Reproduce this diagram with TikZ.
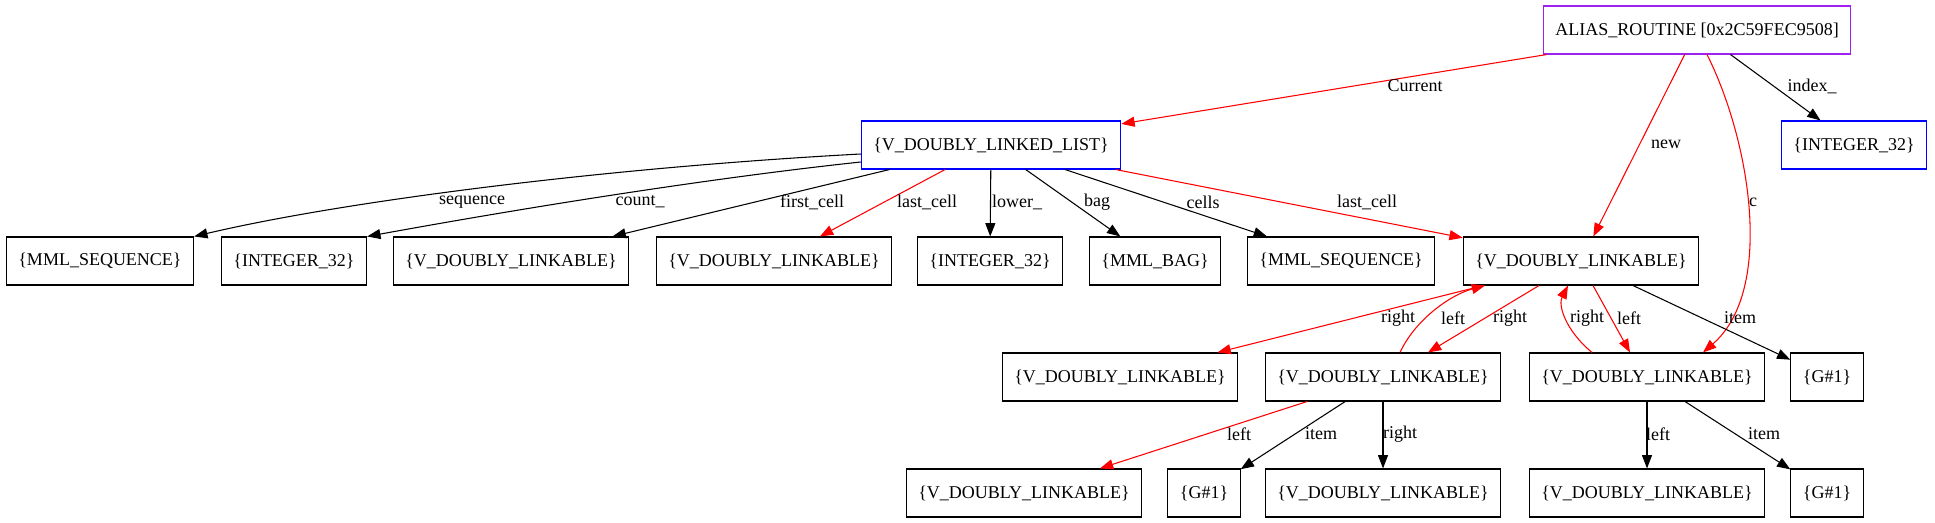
\documentclass[tikz,border=0pt]{standalone}
\usepackage{fontspec}
\setmainfont{Liberation Serif}
\usetikzlibrary{arrows.meta,calc}
\definecolor{gvpurple}{RGB}{160,32,240}
\tikzset{
  box/.style={draw, line width=0.8pt, inner xsep=9pt, inner ysep=0pt, minimum height=36pt},
  lbl/.style={inner sep=1pt},
  ref/.style={line width=0.8pt, -{Triangle[length=10pt,width=7.5pt]}},
}
\begin{document}
\begin{tikzpicture}[x=0.75pt, y=-0.75pt, font=\fontsize{13.5}{16}\selectfont]
\useasboundingbox (0,0) rectangle (1935,523);
% Objetos
\node[box, draw=gvpurple] (alias) at (1697,30) {ALIAS\_ROUTINE [0x2C59FEC9508]};
\node[box, draw=blue] (list) at (991,145) {\{V\_DOUBLY\_LINKED\_LIST\}};
\node[box, draw=blue] (idx) at (1854,145) {\{INTEGER\_32\}};
% Campos de la lista
\node[box] (seq1) at (100,261) {\{MML\_SEQUENCE\}};
\node[box] (int1) at (294,261) {\{INTEGER\_32\}};
\node[box] (link1) at (511,261) {\{V\_DOUBLY\_LINKABLE\}};
\node[box] (link2) at (774,261) {\{V\_DOUBLY\_LINKABLE\}};
\node[box] (int2) at (990,261) {\{INTEGER\_32\}};
\node[box] (bag) at (1155,261) {\{MML\_BAG\}};
\node[box] (seq2) at (1341,261) {\{MML\_SEQUENCE\}};
\node[box] (cur) at (1581,261) {\{V\_DOUBLY\_LINKABLE\}};
% Celdas
\node[box] (cellR) at (1120,377) {\{V\_DOUBLY\_LINKABLE\}};
\node[box] (cellA) at (1383,377) {\{V\_DOUBLY\_LINKABLE\}};
\node[box] (cellB) at (1647,377) {\{V\_DOUBLY\_LINKABLE\}};
\node[box] (gen) at (1827,377) {\{G\#1\}};
\node[box] (aLeft) at (1024,493) {\{V\_DOUBLY\_LINKABLE\}};
\node[box] (aItem) at (1204,493) {\{G\#1\}};
\node[box] (aRight) at (1383,493) {\{V\_DOUBLY\_LINKABLE\}};
\node[box] (bLeft) at (1647,493) {\{V\_DOUBLY\_LINKABLE\}};
\node[box] (bItem) at (1827,493) {\{G\#1\}};
% Desde la rutina
\draw[ref, red] (alias) -- (list);
\draw[ref, red] (alias) -- (cur);
\draw[ref, red] ($(alias.south)+(10,0)$) .. controls (1750,140) and (1775,290) .. ($(cellB.north)+(56,0)$);
\draw[ref] (alias) -- (idx);
\node[lbl] (lCurrent) at (1415,86) {Current};
\node[lbl] (lNew) at (1666,144) {new};
\node[lbl] (lC) at (1753,202) {c};
\node[lbl] (lIndex) at (1812,86) {index\_};
% Desde la lista
\draw[ref] ($(list.west)+(0,9)$) .. controls (600,168) and (340,202) .. (seq1.north east);
\draw[ref] ($(list.west)+(0,17)$) .. controls (720,177) and (540,205) .. (int1.north east);
\draw[ref] (list) -- (link1);
\draw[ref, red] (list) -- (link2);
\draw[ref] (list) -- (int2);
\draw[ref] (list) -- (bag);
\draw[ref] (list) -- (seq2);
\draw[ref, red] (list) -- (cur);
\node[lbl] (lSeq) at (472,202) {sequence};
\node[lbl] (lCount) at (640,202) {count\_};
\node[lbl] (lFirst) at (812,202) {first\_cell};
\node[lbl] (lLastA) at (927,202) {last\_cell};
\node[lbl] (lLower) at (1017,202) {lower\_};
\node[lbl] (lBag) at (1097,202) {bag};
\node[lbl] (lCells) at (1203,202) {cells};
\node[lbl] (lLastB) at (1367,202) {last\_cell};
% Enlaces de la celda actual
\draw[ref, red] (cur) -- (cellR);
\draw[ref, red] ($(cellA.north)+(17,0)$) .. controls (1415,320) and (1450,295) .. ($(cur.south)+(-96,0)$);
\draw[ref, red] ($(cur.south)+(-42,0)$) -- ($(cellA.north)+(45,0)$);
\draw[ref, red] ($(cellB.north)+(-55,0)$) .. controls (1565,330) and (1558,305) .. ($(cur.south)+(-13,0)$);
\draw[ref, red] ($(cur.south)+(12,0)$) -- ($(cellB.north)+(-17,0)$);
\draw[ref] (cur) -- (gen);
\node[lbl] (lR1) at (1398,318) {right};
\node[lbl] (lL1) at (1453,318) {left};
\node[lbl] (lR2) at (1510,318) {right};
\node[lbl] (lR3) at (1587,318) {right};
\node[lbl] (lL2) at (1629,318) {left};
\node[lbl] (lI1) at (1740,318) {item};
% Ultima fila
\draw[ref, red] (cellA) -- (aLeft);
\draw[ref] (cellA) -- (aItem);
\draw[ref] (cellA) -- (aRight);
\draw[ref] (cellB) -- (bLeft);
\draw[ref] (cellB) -- (bItem);
\node[lbl] (lL3) at (1239,434) {left};
\node[lbl] (lI2) at (1321,434) {item};
\node[lbl] (lR4) at (1400,434) {right};
\node[lbl] (lL4) at (1658,434) {left};
\node[lbl] (lI3) at (1764,434) {item};
\end{tikzpicture}
\end{document}
